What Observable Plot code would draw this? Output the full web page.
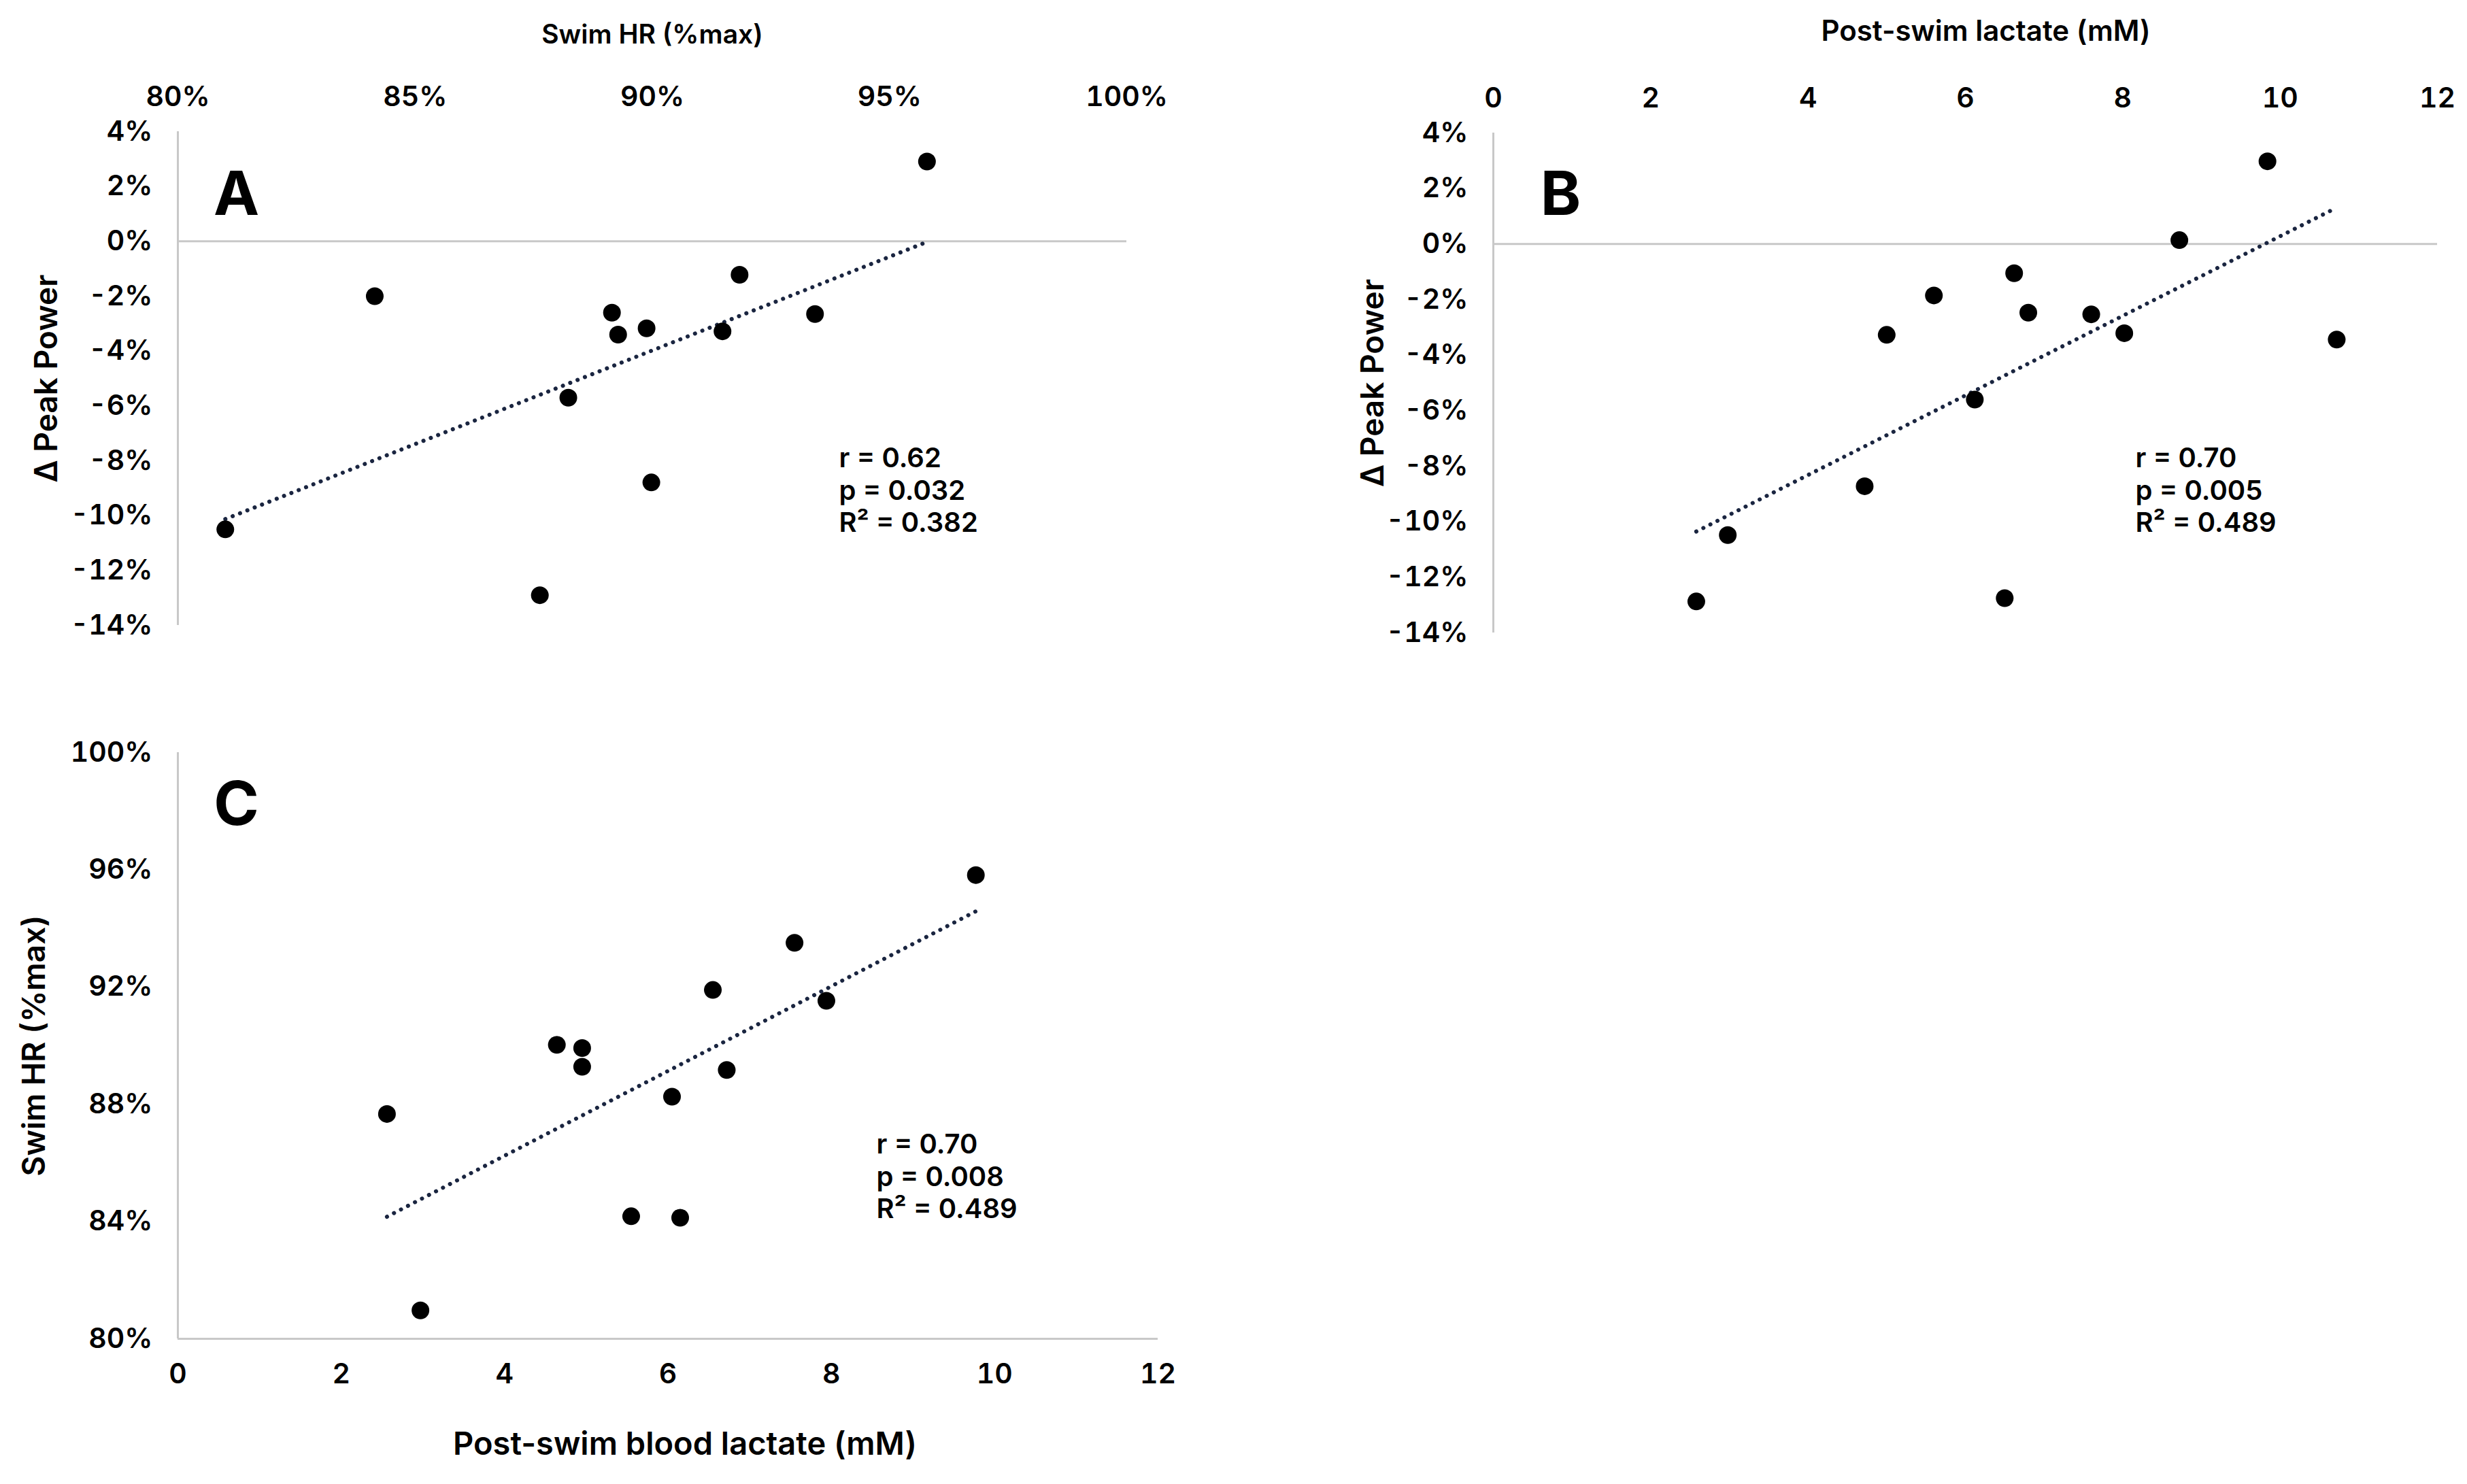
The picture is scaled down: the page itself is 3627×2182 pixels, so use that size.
<!DOCTYPE html>
<html><head><meta charset="utf-8">
<script src="https://cdn.jsdelivr.net/npm/d3@7"></script>
<script src="https://cdn.jsdelivr.net/npm/@observablehq/plot@0.6"></script>
<style>
html,body{margin:0;padding:0;background:#fff;}
#root{position:relative;width:3627px;height:2182px;overflow:hidden;background:#fff;}
.panel{position:absolute;}
</style></head><body><div id="root"></div>
<script>
// Panel A: Swim HR (%max) vs Δ Peak Power (%)
const hrA  = [81.0, 84.15, 87.63, 88.23, 89.15, 89.28, 89.88, 89.98, 91.48, 91.84, 93.43, 95.79];
const dppA = [-10.5, -2.0, -12.9, -5.7, -2.6, -3.4, -3.17, -8.79, -3.28, -1.22, -2.65, 2.91];
// Panel B: Post-swim lactate (mM) vs Δ Peak Power (%)
const lacB = [2.58, 2.98, 4.72, 5.0, 5.6, 6.12, 6.5, 6.62, 6.8, 7.6, 8.02, 8.72, 9.84, 10.72];
const dppB = [-12.87, -10.48, -8.72, -3.27, -1.85, -5.6, -12.75, -1.05, -2.47, -2.53, -3.21, 0.14, 2.98, -3.44];
// Panel C: Post-swim blood lactate (mM) vs Swim HR (%max)
const lacC = [2.56, 2.97, 4.64, 4.95, 4.95, 5.55, 6.05, 6.15, 6.55, 6.72, 7.55, 7.94, 9.77];
const hrC  = [87.67, 80.97, 90.03, 89.92, 89.28, 84.18, 88.26, 84.13, 91.9, 89.17, 93.51, 91.53, 95.82];

const ticksHR = [80, 85, 90, 95, 100];
const ticksDPP = [-14, -12, -10, -8, -6, -4, -2, 0, 2, 4];
const ticksLac = [0, 2, 4, 6, 8, 10, 12];
const ticksHRc = [80, 84, 88, 92, 96, 100];

const titles = {
  aX: "Swim HR (%max)", aY: "∆ Peak Power",
  bX: "Post-swim lactate (mM)", bY: "∆ Peak Power",
  cX: "Post-swim blood lactate (mM)", cY: "Swim HR (%max)"
};
const letters = ["A", "B", "C"];
const statsA = ["r = 0.62", "p = 0.032", "R² = 0.382"];
const statsB = ["r = 0.70", "p = 0.005", "R² = 0.489"];
const statsC = ["r = 0.70", "p = 0.008", "R² = 0.489"];

const FONT = "Inter, 'Open Sans', sans-serif";
const GRAY = "#c8c8c8";
const TICK_FS = 41;
const pct = d => `${d}%`;

function zip(xs, ys) { return xs.map((x, i) => ({x, y: ys[i]})); }

function trend(data) {
  return Plot.linearRegressionY(data, {x: "x", y: "y", ci: 0, stroke: "#1a2540", strokeWidth: 6,
    strokeDasharray: "0.1 11.5", strokeLinecap: "round"});
}

function statText(lines, dx, dy) {
  return Plot.text([lines.join("\n")], {frameAnchor: "top-left", dx, dy, textAnchor: "start",
    lineAnchor: "middle", lineHeight: 1.18, fontSize: 40, fontWeight: 600, fill: "#000"});
}

function letter(ch, dx, dy) {
  return Plot.text([ch], {frameAnchor: "top-left", dx, dy, textAnchor: "middle", lineAnchor: "middle",
    fontSize: 90, fontWeight: 700, fill: "#000"});
}

function yTitle(t, dx) {
  return Plot.text([t], {frameAnchor: "left", dx, rotate: -90, textAnchor: "middle", lineAnchor: "middle",
    fontSize: 46, fontWeight: 600, fill: "#000"});
}

function place(svg, left, top) {
  const d = document.createElement("div");
  d.className = "panel"; d.style.left = left + "px"; d.style.top = top + "px";
  d.appendChild(svg);
  document.getElementById("root").appendChild(d);
}

const baseStyle = {fontFamily: FONT, fontSize: TICK_FS + "px", fontWeight: 600, color: "#000", background: "transparent", overflow: "visible"};

// ---- Panel A ----
const dataA = zip(hrA, dppA);
const plotA = Plot.plot({
  width: 1800, height: 1000,
  marginLeft: 261, marginRight: 144, marginTop: 193, marginBottom: 81,
  style: baseStyle,
  x: {domain: [80, 100]},
  y: {domain: [-14, 4]},
  marks: [
    Plot.ruleY([0], {stroke: GRAY, strokeWidth: 3}),
    Plot.ruleX([80], {stroke: GRAY, strokeWidth: 3}),
    Plot.axisX({anchor: "top", ticks: ticksHR, tickFormat: pct, tickSize: 0, tickPadding: 38, label: null, fontSize: TICK_FS}),
    Plot.axisY({anchor: "left", ticks: ticksDPP, tickFormat: pct, tickSize: 0, tickPadding: 37, label: null, fontSize: TICK_FS}),
    Plot.text([titles.aX], {frameAnchor: "top", dy: -142, lineAnchor: "middle", fontSize: 39, fontWeight: 600}),
    yTitle(titles.aY, -192),
    trend(dataA),
    Plot.dot(dataA, {x: "x", y: "y", r: 13, fill: "#000", stroke: null}),
    letter(letters[0], 86, 94),
    statText(statsA, 972, 526)
  ]
});
place(plotA, 0, 0);

// ---- Panel B ----
const dataB = zip(lacB, dppB);
const plotB = Plot.plot({
  width: 1777, height: 1000,
  marginLeft: 345, marginRight: 44, marginTop: 195, marginBottom: 70,
  style: baseStyle,
  x: {domain: [0, 12]},
  y: {domain: [-14, 4]},
  marks: [
    Plot.ruleY([0], {stroke: GRAY, strokeWidth: 3}),
    Plot.ruleX([0], {stroke: GRAY, strokeWidth: 3}),
    Plot.axisX({anchor: "top", ticks: ticksLac, tickSize: 0, tickPadding: 38, label: null, fontSize: TICK_FS}),
    Plot.axisY({anchor: "left", ticks: ticksDPP, tickFormat: pct, tickSize: 0, tickPadding: 37, label: null, fontSize: TICK_FS}),
    Plot.text([titles.bX], {frameAnchor: "top", dx: 30, dy: -149, lineAnchor: "middle", fontSize: 42, fontWeight: 600}),
    yTitle(titles.bY, -176),
    trend(dataB),
    Plot.dot(dataB, {x: "x", y: "y", r: 13, fill: "#000", stroke: null}),
    letter(letters[1], 99, 92),
    statText(statsB, 944, 524)
  ]
});
place(plotB, 1850, 0);

// ---- Panel C ----
const dataC = zip(lacC, hrC);
const plotC = Plot.plot({
  width: 1800, height: 1182,
  marginLeft: 261, marginRight: 98, marginTop: 106, marginBottom: 214,
  style: baseStyle,
  x: {domain: [0, 12]},
  y: {domain: [80, 100]},
  marks: [
    Plot.ruleY([80], {stroke: GRAY, strokeWidth: 3}),
    Plot.ruleX([0], {stroke: GRAY, strokeWidth: 3}),
    Plot.axisX({anchor: "bottom", ticks: ticksLac, tickSize: 0, tickPadding: 36, label: null, fontSize: TICK_FS}),
    Plot.axisY({anchor: "left", ticks: ticksHRc, tickFormat: pct, tickSize: 0, tickPadding: 37, label: null, fontSize: TICK_FS}),
    Plot.text([titles.cX], {frameAnchor: "bottom", dx: 25, dy: 155, lineAnchor: "middle", fontSize: 47, fontWeight: 600}),
    yTitle(titles.cY, -210),
    trend(dataC),
    Plot.dot(dataC, {x: "x", y: "y", r: 13, fill: "#000", stroke: null}),
    letter(letters[2], 86, 78),
    statText(statsC, 1027, 622)
  ]
});
place(plotC, 0, 1000);
</script></body></html>
